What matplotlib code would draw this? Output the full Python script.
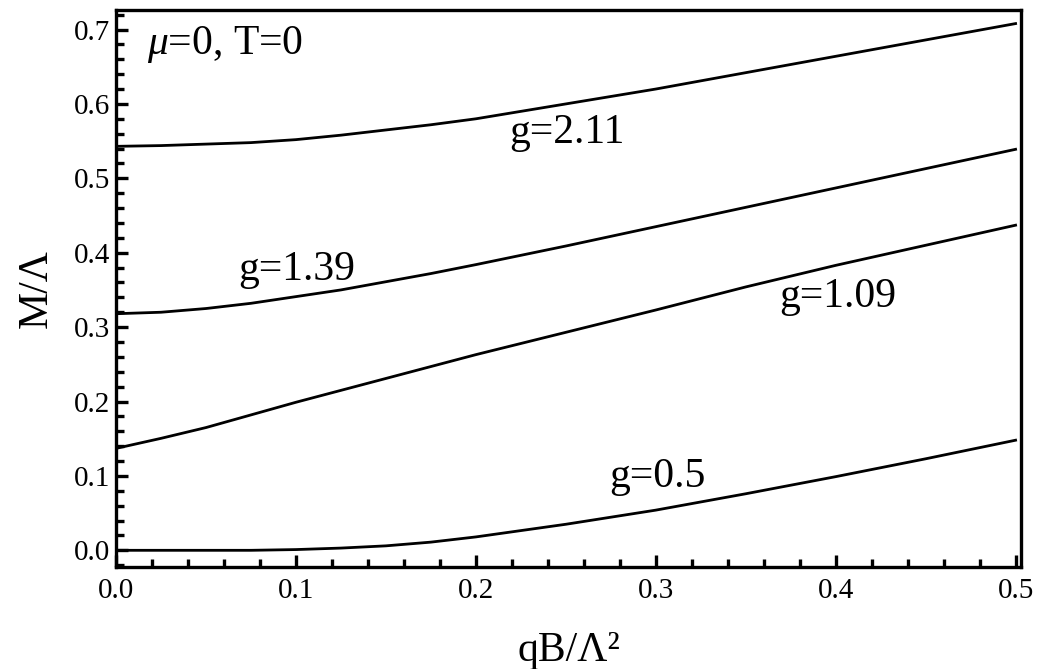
import matplotlib
matplotlib.use("Agg")
import matplotlib.pyplot as plt
from matplotlib.ticker import MultipleLocator

plt.rcParams['font.family'] = ['Liberation Serif', 'DejaVu Serif']
plt.rcParams['mathtext.fontset'] = 'custom'
plt.rcParams['mathtext.rm'] = 'Liberation Serif'
plt.rcParams['mathtext.it'] = 'Liberation Serif:italic'

# values
qB = [0.0, 0.025, 0.05, 0.075, 0.1, 0.125, 0.15, 0.175, 0.2, 0.25,
      0.3, 0.35, 0.4, 0.45, 0.5]
m_g211 = [0.543, 0.544, 0.546, 0.548, 0.552, 0.558, 0.565, 0.572, 0.580,
          0.600, 0.620, 0.642, 0.664, 0.686, 0.708]
m_g139 = [0.318, 0.320, 0.325, 0.332, 0.341, 0.350, 0.361, 0.372, 0.384,
          0.409, 0.435, 0.461, 0.487, 0.513, 0.539]
m_g109 = [0.137, 0.1505, 0.165, 0.182, 0.199, 0.215, 0.231, 0.247, 0.263,
          0.293, 0.323, 0.354, 0.383, 0.410, 0.437]
m_g05 = [0.0, 0.0, 0.0, 0.0, 0.001, 0.003, 0.006, 0.011, 0.018,
         0.035, 0.054, 0.076, 0.099, 0.123, 0.148]

curve_labels = ['g=2.11', 'g=1.39', 'g=1.09', 'g=0.5']
label_x = [0.2506, 0.1006, 0.401, 0.301]
label_y = [0.547, 0.364, 0.327, 0.085]

fig = plt.figure(figsize=(10.38, 6.69), dpi=100)
ax = fig.add_axes([0.1118, 0.1525, 0.8718, 0.8325])

for m in [m_g211, m_g139, m_g109, m_g05]:
    ax.plot(qB, m, color='black', lw=2.0, solid_joinstyle='round')

for s, x, y in zip(curve_labels, label_x, label_y):
    ax.text(x, y, s, fontsize=30, ha='center', va='baseline')

ax.text(0.0172, 0.667, r'$\mu$=0, T=0', fontsize=30, ha='left', va='baseline')

ax.set_xlim(0, 0.503)
ax.set_ylim(-0.0224, 0.7262)

ax.xaxis.set_major_locator(MultipleLocator(0.1))
ax.xaxis.set_minor_locator(MultipleLocator(0.02))
ax.yaxis.set_major_locator(MultipleLocator(0.1))
ax.yaxis.set_minor_locator(MultipleLocator(0.02))
ax.xaxis.set_major_formatter(plt.FuncFormatter(lambda v, p: f'{v:.1f}'))
ax.yaxis.set_major_formatter(plt.FuncFormatter(lambda v, p: f'{v:.1f}'))

ax.tick_params(which='both', direction='in', width=2.4, top=False, right=False,
               labelsize=21)
ax.tick_params(which='major', length=8.5)
ax.tick_params(which='minor', length=6)
ax.tick_params(axis='x', pad=8)
ax.tick_params(axis='y', pad=4)

for sp in ax.spines.values():
    sp.set_linewidth(2.4)

ax.set_xlabel('qB/Λ²', fontsize=30)
ax.set_ylabel('M/Λ', fontsize=30)
ax.xaxis.set_label_coords(0.5, -0.115)
ax.yaxis.set_label_coords(-0.067, 0.5)

fig.savefig('out.png', dpi=100)
